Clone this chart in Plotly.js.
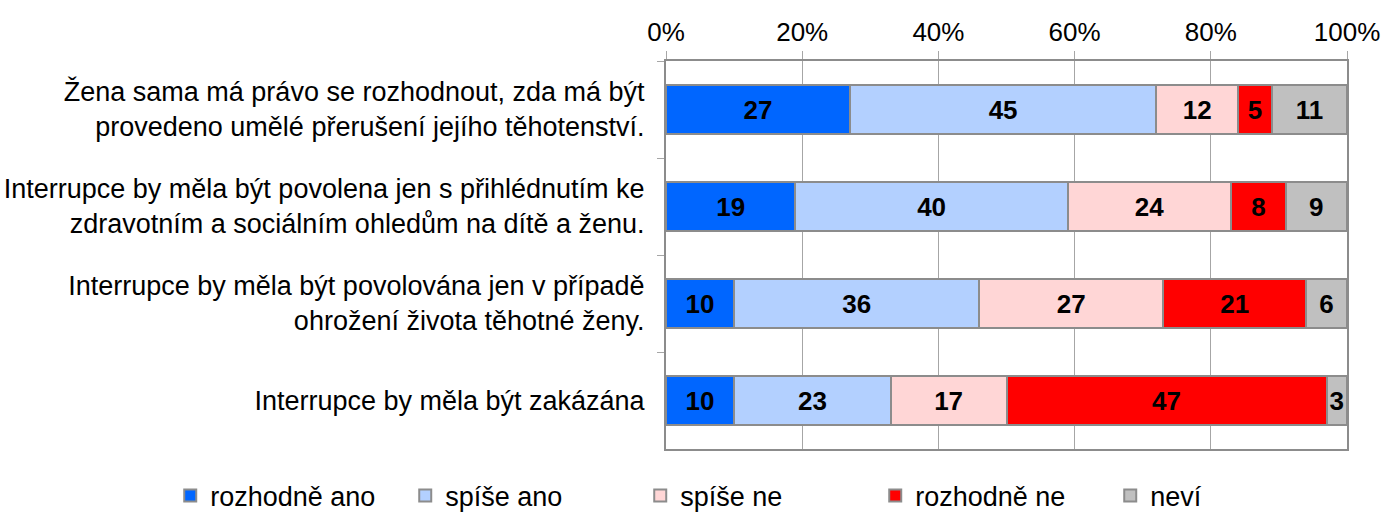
<!DOCTYPE html>
<html>
<head>
<meta charset="utf-8">
<script src="https://cdn.plot.ly/plotly-3.0.1.min.js"></script>
<style>html,body{margin:0;padding:0;background:#fff;}#chart{width:1383px;height:512px;}</style>
</head>
<body>
<div id="chart"></div>
<script>
const categories = [
  "Žena sama má právo se rozhodnout, zda má být<br>provedeno umělé přerušení jejího těhotenství.",
  "Interrupce by měla být povolena jen s přihlédnutím ke<br>zdravotním a sociálním ohledům na dítě a ženu.",
  "Interrupce by měla být povolována jen v případě<br>ohrožení života těhotné ženy.",
  "Interrupce by měla být zakázána"
];
const seriesNames = ["rozhodně ano", "spíše ano", "spíše ne", "rozhodně ne", "neví"];
const rozhodneAno = [27, 19, 10, 10];
const spiseAno    = [45, 40, 36, 23];
const spiseNe     = [12, 24, 27, 17];
const rozhodneNe  = [5, 8, 21, 47];
const nevi        = [11, 9, 6, 3];
const xTickVals = [0, 20, 40, 60, 80, 100];
const xTickText = ["0%", "20%", "40%", "60%", "80%", "100%"];

const seriesValues = [rozhodneAno, spiseAno, spiseNe, rozhodneNe, nevi];
const colors = ["#0066ff", "#b3d0ff", "#ffd6d6", "#ff0000", "#c0c0c0"];
const FONT = "Liberation Sans, Arial, sans-serif";

const traces = seriesNames.map((name, i) => ({
  type: "bar",
  orientation: "h",
  name: name,
  y: categories,
  x: seriesValues[i],
  marker: { color: colors[i], line: { color: "#8c8c8c", width: 2 } },
  text: seriesValues[i].map(String),
  texttemplate: "%{text}",
  textposition: "inside",
  insidetextanchor: "middle",
  textangle: 0,
  constraintext: "none",
  textfont: { family: FONT, size: 26, color: "#000", weight: "bold" },
  hoverinfo: "skip"
}));

const layout = {
  width: 1383, height: 512,
  margin: { l: 666, r: 36, t: 61, b: 63, autoexpand: false },
  barmode: "stack",
  bargap: 0.5,
  paper_bgcolor: "#fff",
  plot_bgcolor: "#fff",
  font: { family: FONT, size: 26, color: "#000" },
  xaxis: {
    side: "top",
    range: [0, 100],
    tickvals: xTickVals,
    ticktext: xTickText,
    showgrid: true,
    gridcolor: "#a6a6a6",
    gridwidth: 1,
    zeroline: false,
    showline: true,
    linecolor: "#8c8c8c",
    linewidth: 2,
    mirror: true,
    ticks: "outside",
    ticklen: 8,
    tickcolor: "#a6a6a6",
    tickfont: { family: FONT, size: 26, color: "#000" },
    fixedrange: true
  },
  yaxis: {
    type: "category",
    autorange: "reversed",
    showline: true,
    linecolor: "#8c8c8c",
    linewidth: 2,
    mirror: true,
    ticks: "outside",
    tickson: "boundaries",
    ticklen: 7,
    tickcolor: "#a6a6a6",
    ticklabelstandoff: 14,
    tickfont: { family: FONT, size: 27, color: "#000" },
    fixedrange: true
  },
  showlegend: true,
  legend: {
    orientation: "h",
    x: -0.728,
    xanchor: "left",
    y: -0.058,
    yanchor: "top",
    entrywidth: 190,
    entrywidthmode: "pixels",
    itemwidth: 30,
    font: { family: FONT, size: 27, color: "#000" },
    traceorder: "normal",
    itemclick: false,
    itemdoubleclick: false
  }
};

Plotly.newPlot("chart", traces, layout, { displayModeBar: false, staticPlot: true });
</script>
</body>
</html>
